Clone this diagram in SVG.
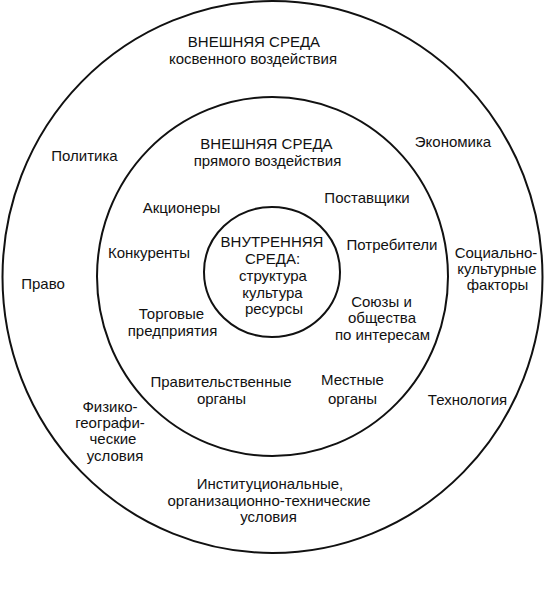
<svg xmlns="http://www.w3.org/2000/svg" width="546" height="589" viewBox="0 0 546 589">
<style>
.ring{fill:none;stroke:#111;stroke-width:2}
text{font-family:"Liberation Sans",Arial,"DejaVu Sans",sans-serif;font-size:15px;fill:#111;text-anchor:middle}
</style>
<rect width="546" height="589" fill="#fff"/>
<g id="outer-ring">
<ellipse class="ring" cx="272.5" cy="277" rx="270" ry="276"/>
<text x="254" y="47">ВНЕШНЯЯ СРЕДА</text>
<text x="253" y="64">косвенного воздействия</text>
</g>
<g id="politika"><text x="84.5" y="161">Политика</text></g>
<g id="pravo"><text x="43" y="289">Право</text></g>
<g id="fiziko">
<text x="110" y="412">Физико-</text>
<text x="110" y="428">географи-</text>
<text x="113" y="444">ческие</text>
<text x="115" y="461">условия</text>
</g>
<g id="ekonomika"><text x="453" y="147">Экономика</text></g>
<g id="social">
<text x="496" y="258">Социально-</text>
<text x="497" y="274">культурные</text>
<text x="497.5" y="290">факторы</text>
</g>
<g id="tehnologiya"><text x="467.5" y="405">Технология</text></g>
<g id="institut">
<text x="270" y="489">Институциональные,</text>
<text x="269" y="506">организационно-технические</text>
<text x="268.5" y="522">условия</text>
</g>
<g id="middle-ring">
<ellipse class="ring" cx="272.5" cy="276.5" rx="175.5" ry="179.5"/>
<text x="266.5" y="149">ВНЕШНЯЯ СРЕДА</text>
<text x="267.5" y="166">прямого воздействия</text>
</g>
<g id="akcionery"><text x="181.5" y="213">Акционеры</text></g>
<g id="postavshiki"><text x="367" y="203">Поставщики</text></g>
<g id="konkurenty"><text x="149" y="258">Конкуренты</text></g>
<g id="potrebiteli"><text x="392" y="250">Потребители</text></g>
<g id="torgovye">
<text x="171.5" y="319">Торговые</text>
<text x="172.5" y="336">предприятия</text>
</g>
<g id="soyuzy">
<text x="381.5" y="307">Союзы и</text>
<text x="382" y="323">общества</text>
<text x="382.5" y="340">по интересам</text>
</g>
<g id="pravitelstvennye">
<text x="221" y="387">Правительственные</text>
<text x="221.5" y="404">органы</text>
</g>
<g id="mestnye">
<text x="352.5" y="385">Местные</text>
<text x="352.5" y="404">органы</text>
</g>
<g id="inner-ring">
<ellipse class="ring" cx="272" cy="272" rx="68" ry="65"/>
<text x="272" y="247">ВНУТРЕННЯЯ</text>
<text x="272.5" y="264">СРЕДА:</text>
<text x="273" y="281">структура</text>
<text x="272.5" y="298">культура</text>
<text x="274" y="314">ресурсы</text>
</g>
</svg>
